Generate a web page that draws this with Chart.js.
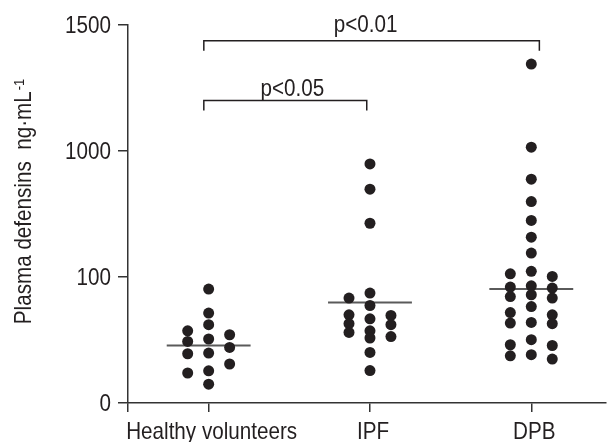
<!DOCTYPE html>
<html lang="en">
<head>
<meta charset="UTF-8" />
<title>Plasma defensins</title>
<script src="https://cdn.jsdelivr.net/npm/chart.js@4.4.1/dist/chart.umd.min.js"></script>
<style>
    html, body { margin: 0; padding: 0; background: #fff; }
    #wrap { width: 611px; height: 442px; }
</style>
</head>
<body>
<div id="wrap"><canvas id="myChart" width="611" height="442"></canvas></div>
<script>
const categories = ['Healthy volunteers', 'IPF', 'DPB'];
const yTickLabels = ['0', '100', '1000', '1500'];
// plasma defensins in ng/mL
const healthy = [80.2, 51.7, 41.8, 37.4, 34.8, 32.2, 30.8, 27.6, 24.9, 24.6, 20.4, 18.0, 17.3, 14.1];
const ipf = [790, 498, 267, 74.5, 68.0, 59.4, 50.1, 49.5, 46.6, 42.6, 41.8, 37.4, 36.3, 33.7, 32.8, 25.2, 18.1];
const dpb = [1345, 1015, 597, 397, 281, 207, 155, 111, 106, 101, 85.1, 83.2, 81.7, 72.3, 70.0, 68.1,
             58.3, 52.2, 50.1, 43.6, 43.1, 42.6, 31.8, 29.0, 28.6, 24.2, 23.7, 22.3];
const groupMeans = [28.6, 62.8, 80.2];
const comparisons = [['p<0.01', 0, 2], ['p<0.05', 0, 1]];

// no narrow face installed, so text is squeezed by hand
const fontFamily = "'Liberation Sans', Arial, sans-serif";
const squeeze = 0.86;
const ink = '#231f20';
const axisColor = '#333333';

// axis is log from "0" (10) to 1000, then linear up to 1500
function toAxis(v) {
    if (v <= 1000) return Math.log10(v) - 1;
    return 2 + (v - 1000) / 500;
}

// simple three column swarm so dots don't sit on top of each other
const GAP = 0.09, STEP = 0.13;
function swarm(values, centre) {
    const cols = [[], [], []];
    const offs = [0, -1, 1];
    const pts = [];
    values.map(toAxis).sort((a, b) => b - a).forEach(u => {
        let best = 0, bestGap = -1;
        for (let c = 0; c < 3; c++) {
            const gap = cols[c].reduce((m, p) => Math.min(m, Math.abs(p - u)), Infinity);
            if (gap >= GAP) { best = c; break; }
            if (gap > bestGap) { best = c; bestGap = gap; }
        }
        cols[best].push(u);
        pts.push({ x: centre + offs[best] * STEP, y: u });
    });
    return pts;
}

const groups = [healthy, ipf, dpb];
const datasets = [];
groups.forEach((vals, i) => {
    datasets.push({
        data: swarm(vals, i + 1),
        backgroundColor: ink,
        borderColor: ink,
        pointRadius: 5.5,
        pointBorderWidth: 0
    });
});
groupMeans.forEach((m, i) => {
    datasets.push({
        type: 'line',
        data: [{ x: i + 1 - 0.26, y: toAxis(m) }, { x: i + 1 + 0.26, y: toAxis(m) }],
        borderColor: '#5a5a5a',
        borderWidth: 2,
        pointRadius: 0,
        fill: false
    });
});

function squeezedText(ctx, text, x, y, size, align) {
    ctx.save();
    ctx.font = size + 'px ' + fontFamily;
    ctx.textAlign = align;
    ctx.textBaseline = 'alphabetic';
    ctx.translate(x, y);
    ctx.scale(squeeze, 1);
    ctx.fillText(text, 0, 0);
    ctx.restore();
}

const annotate = {
    id: 'annotate',
    afterDraw(chart) {
        const ctx = chart.ctx;
        const x = chart.scales.x, y = chart.scales.y;
        ctx.save();
        ctx.strokeStyle = ink;
        ctx.fillStyle = ink;
        ctx.lineWidth = 1.5;

        // tick labels
        yTickLabels.forEach((t, i) => {
            squeezedText(ctx, t, 111, y.getPixelForValue(i) + 7.5, 24, 'right');
        });
        categories.forEach((c, i) => {
            squeezedText(ctx, c, x.getPixelForValue(i + 1) + 3, 439, 24, 'center');
        });

        // brackets: level (axis units), text gap, text shift
        const levels = [[2.875, 9, -6], [2.4, 5, 7]];
        comparisons.forEach((c, i) => {
            const x1 = x.getPixelForValue(c[1] + 1 - 0.03);
            const x2 = x.getPixelForValue(c[2] + 1 + (c[2] === 2 ? 0.05 : -0.02));
            const yy = y.getPixelForValue(levels[i][0]);
            ctx.beginPath();
            ctx.moveTo(x1, yy + 10);
            ctx.lineTo(x1, yy);
            ctx.lineTo(x2, yy);
            ctx.lineTo(x2, yy + 10);
            ctx.stroke();
            squeezedText(ctx, c[0], (x1 + x2) / 2 + levels[i][2], yy - levels[i][1], 24, 'center');
        });

        // y title with superscript
        const main = 'Plasma defensins  ng\u00b7mL';
        const sup = '-1';
        ctx.font = '24px ' + fontFamily;
        const w1 = ctx.measureText(main).width * squeeze;
        ctx.font = '15px ' + fontFamily;
        const w2 = ctx.measureText(sup).width * squeeze;
        const cy = 202;
        ctx.translate(30.5, cy);
        ctx.rotate(-Math.PI / 2);
        squeezedText(ctx, main, -(w1 + w2) / 2, 0, 24, 'left');
        squeezedText(ctx, sup, -(w1 + w2) / 2 + w1 + 1, -7, 15, 'left');
        ctx.restore();
    }
};

Chart.defaults.font.family = fontFamily;
Chart.defaults.color = ink;

new Chart(document.getElementById('myChart'), {
    type: 'scatter',
    data: { datasets: datasets },
    plugins: [annotate],
    options: {
        responsive: false,
        animation: false,
        layout: { padding: { top: 25, right: 0, bottom: 0, left: 0 } },
        plugins: { legend: { display: false }, tooltip: { enabled: false } },
        scales: {
            x: {
                type: 'linear',
                min: 0.5,
                max: 3.46,
                afterBuildTicks: s => { s.ticks = [0.5, 1, 2, 3].map(v => ({ value: v })); },
                afterFit: s => { s.height = 39; },
                ticks: { display: false },
                grid: { drawOnChartArea: false, tickLength: 9, color: axisColor, lineWidth: 1.5 },
                border: { color: axisColor, width: 1.5 }
            },
            y: {
                type: 'linear',
                min: 0,
                max: 3,
                afterBuildTicks: s => { s.ticks = yTickLabels.map((t, i) => ({ value: i })); },
                afterFit: s => { s.width = 128; },
                ticks: { display: false },
                grid: { drawOnChartArea: false, tickLength: 10, color: axisColor, lineWidth: 1.5 },
                border: { color: axisColor, width: 1.5 }
            }
        }
    }
});
</script>
</body>
</html>
